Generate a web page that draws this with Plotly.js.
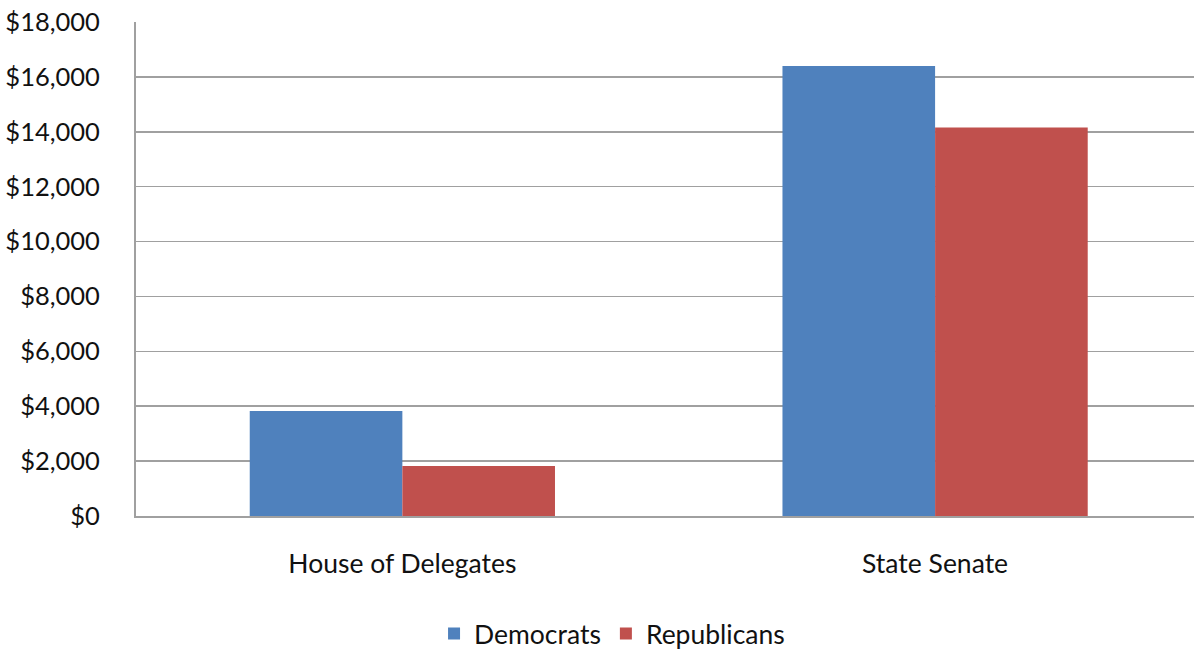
<!DOCTYPE html>
<html>
<head>
<meta charset="utf-8">
<script src="https://cdn.plot.ly/plotly-3.0.1.min.js"></script>
<style>html,body{margin:0;padding:0;background:#fff;}#chart{width:1194px;height:650px;}</style>
</head>
<body>
<div id="chart"></div>
<script>
const categories = ["House of Delegates", "State Senate"];
const democrats = [3830, 16400];
const republicans = [1825, 14160];
const tickValues = [0, 2000, 4000, 6000, 8000, 10000, 12000, 14000, 16000, 18000];

const font = "Lato, 'Open Sans', sans-serif";
const fs = 26.5;
const traces = [
  {type: "bar", name: "Democrats", x: categories, y: democrats,
   marker: {color: "#4F81BD", line: {width: 0}}},
  {type: "bar", name: "Republicans", x: categories, y: republicans,
   marker: {color: "#C0504D", line: {width: 0}}}
];
const layout = {
  width: 1194, height: 650,
  margin: {l: 136, r: 0, t: 22, b: 133.5},
  paper_bgcolor: "#fff", plot_bgcolor: "#fff",
  font: {family: font, size: fs, color: "#111"},
  barmode: "group", bargap: 0.427, bargroupgap: 0,
  showlegend: true,
  legend: {orientation: "h", xref: "container", yref: "container",
           x: 0.5126, xanchor: "center", y: 0.025, yanchor: "middle",
           font: {family: font, size: fs, color: "#111"}, itemwidth: 30, traceorder: "normal"},
  xaxis: {type: "category", range: [-0.5, 1.486], showgrid: false,
          showline: true, linecolor: "#A0A0A0", linewidth: 2,
          ticks: "", ticklabelstandoff: 23, tickfont: {family: font, size: fs}},
  yaxis: {range: [0, 18000], tickvals: tickValues,
          ticktext: tickValues.map(v => "$" + v.toLocaleString("en-US")),
          showgrid: true, gridcolor: "#A0A0A0", gridwidth: 1.5,
          showline: true, linecolor: "#A0A0A0", linewidth: 2,
          zeroline: false, ticks: "", ticklabelstandoff: 29,
          tickfont: {family: font, size: 25.5}}
};
Plotly.newPlot("chart", traces, layout, {displayModeBar: false, staticPlot: true});
</script>
</body>
</html>
